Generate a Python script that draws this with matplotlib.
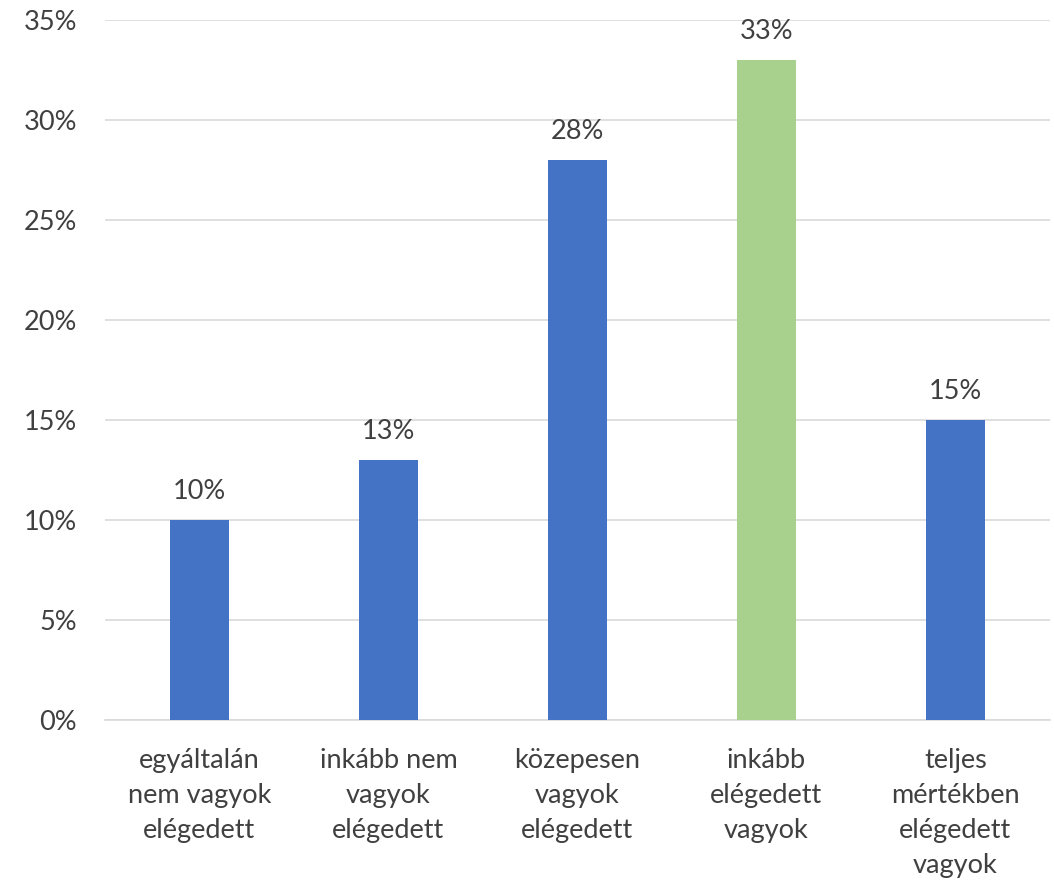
import numpy as np
import matplotlib.pyplot as plt

categories = ['egyáltalán\nnem vagyok\nelégedett', 'inkább nem\nvagyok\nelégedett',
              'közepesen\nvagyok\nelégedett', 'inkább\nelégedett\nvagyok',
              'teljes\nmértékben\nelégedett\nvagyok']
values = [10, 13, 28, 33, 15]
colors = ['#4472C4', '#4472C4', '#4472C4', '#A9D18E', '#4472C4']

plt.rcParams['font.family'] = ['Lato', 'DejaVu Sans']
text_color = '#404040'

fig = plt.figure(figsize=(10.54, 8.94), dpi=100)
ax = fig.add_axes([0.0996, 0.1946, 0.8964, 0.783])

x = np.arange(len(categories))
ax.bar(x, values, width=0.31, color=colors, zorder=3)

for xi, v in zip(x, values):
    ax.text(xi, v + 0.8, f'{v}%', ha='center', va='bottom', fontsize=19.5, color=text_color)

ax.set_ylim(0, 35)
ax.set_xlim(-0.5, len(categories) - 0.5)
ax.set_yticks(np.arange(0, 36, 5))
ax.set_yticklabels([f'{t}%' for t in range(0, 36, 5)])
ax.set_xticks(x)
ax.set_xticklabels(categories, linespacing=1.5)

ax.grid(axis='y', color='#D9D9D9', linewidth=1.2, zorder=0)
for s in ['top', 'right', 'left']:
    ax.spines[s].set_visible(False)
ax.spines['bottom'].set_color('#D9D9D9')
ax.spines['bottom'].set_linewidth(1.2)
ax.tick_params(axis='both', length=0, labelsize=19.5, colors=text_color)
ax.tick_params(axis='y', pad=20)
ax.tick_params(axis='x', pad=20)

plt.savefig('out.png', dpi=100)
